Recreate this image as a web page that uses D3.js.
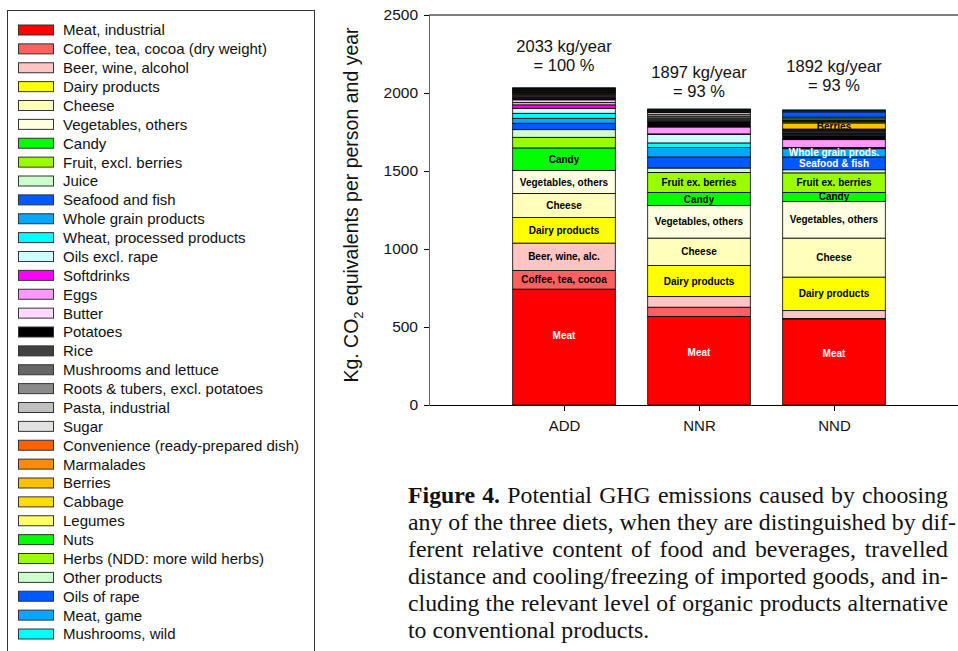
<!DOCTYPE html>
<html>
<head>
<meta charset="utf-8">
<script src="https://cdn.jsdelivr.net/npm/d3@7"></script>
<style>
  body { margin: 0; background: #fff; }
  svg text { font-family: "Liberation Sans", Arial, sans-serif; }
  .caption text { font-family: "Liberation Serif", "Times New Roman", serif; }
</style>
</head>
<body>
<svg id="chart" width="958" height="651"></svg>
<script>
const diets = ["ADD", "NNR", "NND"];

const categories = [
  "Meat, industrial", "Coffee, tea, cocoa (dry weight)", "Beer, wine, alcohol",
  "Dairy products", "Cheese", "Vegetables, others", "Candy", "Fruit, excl. berries",
  "Juice", "Seafood and fish", "Whole grain products", "Wheat, processed products",
  "Oils excl. rape", "Softdrinks", "Eggs", "Butter", "Potatoes", "Rice",
  "Mushrooms and lettuce", "Roots & tubers, excl. potatoes", "Pasta, industrial",
  "Sugar", "Convenience (ready-prepared dish)", "Marmalades", "Berries", "Cabbage",
  "Legumes", "Nuts", "Herbs (NDD: more wild herbs)", "Other products", "Oils of rape",
  "Meat, game", "Mushrooms, wild"
];

const colors = [
  "#ff0000", "#ff6060", "#ffc4c4", "#ffff00", "#ffffbb", "#ffffe2", "#00ff00", "#99ff00",
  "#ccffcc", "#0058ff", "#00a8ff", "#00ffff", "#ccffff", "#ff00ff", "#ff99ff", "#ffd8ff",
  "#000000", "#404040", "#666666", "#8a8a8a", "#c0c0c0", "#e2e2e2", "#ff6000", "#ff8c00",
  "#ffc000", "#ffde00", "#ffff66", "#00ff00", "#99ff00", "#ccffcc", "#0058ff", "#00a8ff",
  "#00ffff"
];

// kg CO2-eq per person and year, same order as categories
const addValues = [743, 119, 176, 164, 154, 148, 144, 68, 49, 41, 32, 32, 32, 22, 16, 16,
  10, 8, 8, 7, 6, 6, 4, 3, 3, 3, 3, 3, 3, 3, 3, 3, 1];
const nnrValues = [567, 60, 68, 199, 176, 209, 84, 128, 28, 71, 60, 30, 55, 3, 44, 4,
  30, 12, 12, 12, 12, 12, 2, 2, 2, 2, 2, 2, 2, 2, 2, 2, 1];
const nndValues = [552, 3, 50, 215, 250, 235, 58, 125, 20, 82, 53, 3, 3, 2, 50, 4,
  20, 8, 8, 8, 6, 6, 4, 4, 39, 7, 6, 6, 8, 10, 34, 7, 6];

const totals = ["2033 kg/year", "1897 kg/year", "1892 kg/year"];
const shares = ["= 100 %", "= 93 %", "= 93 %"];

// text drawn inside the bars: [category, label]
const addLabels = [["Meat, industrial", "Meat"], ["Coffee, tea, cocoa (dry weight)", "Coffee, tea, cocoa"],
  ["Beer, wine, alcohol", "Beer, wine, alc."], ["Dairy products", "Dairy products"],
  ["Cheese", "Cheese"], ["Vegetables, others", "Vegetables, others"], ["Candy", "Candy"]];
const nnrLabels = [["Meat, industrial", "Meat"], ["Dairy products", "Dairy products"],
  ["Cheese", "Cheese"], ["Vegetables, others", "Vegetables, others"], ["Candy", "Candy"],
  ["Fruit, excl. berries", "Fruit ex. berries"]];
const nndLabels = [["Meat, industrial", "Meat"], ["Dairy products", "Dairy products"],
  ["Cheese", "Cheese"], ["Vegetables, others", "Vegetables, others"], ["Candy", "Candy"],
  ["Fruit, excl. berries", "Fruit ex. berries"], ["Seafood and fish", "Seafood & fish"],
  ["Whole grain products", "Whole grain prods."], ["Berries", "Berries"]];
const whiteLabels = ["Meat", "Seafood & fish", "Whole grain prods."];

const yTicks = [0, 500, 1000, 1500, 2000, 2500];

const captionLines = [
  "Potential GHG emissions caused by choosing",
  "any of the three diets, when they are distinguished by dif-",
  "ferent relative content of food and beverages, travelled",
  "distance and cooling/freezing of imported goods, and in-",
  "cluding the relevant level of organic products alternative",
  "to conventional products."
];

const svg = d3.select("#chart");

const rows = diets.map((d, i) => {
  const vals = [addValues, nnrValues, nndValues][i];
  const r = { diet: d };
  categories.forEach((c, j) => (r[c] = vals[j]));
  return r;
});

const series = d3.stack().keys(categories)(rows);
const color = d3.scaleOrdinal().domain(categories).range(colors);

const x = d3.scaleLinear().domain([0, 4]).range([429, 969]);
const y = d3.scaleLinear().domain([0, 2500]).range([405, 15]);
const barW = x(0.76) - x(0);

// Bars
svg.append("g")
  .selectAll("g")
  .data(series)
  .join("g")
  .attr("fill", (s) => color(s.key))
  .selectAll("rect")
  .data((s) => s)
  .join("rect")
  .attr("x", (d, i) => x(i + 1) - barW / 2)
  .attr("y", (d) => y(d[1]))
  .attr("width", barW)
  .attr("height", (d) => y(d[0]) - y(d[1]))
  .attr("stroke", "#000")
  .attr("stroke-width", 0.8);

// Labels inside segments
[addLabels, nnrLabels, nndLabels].forEach((labels, i) => {
  labels.forEach(([cat, text]) => {
    const seg = series.find((s) => s.key === cat)[i];
    const frac = cat === "Meat, industrial" ? 0.6 : 0.5;
    svg.append("text")
      .attr("x", x(i + 1))
      .attr("y", y(seg[0] + (seg[1] - seg[0]) * frac))
      .attr("dy", "0.36em")
      .attr("text-anchor", "middle")
      .attr("font-size", "10px")
      .attr("font-weight", "700")
      .attr("fill", whiteLabels.includes(text) ? "#fff" : "#000")
      .text(text);
  });
});

// Totals above bars
const labelAt = [2262, 2095, 2133];
diets.forEach((d, i) => {
  const g = svg.append("text")
    .attr("text-anchor", "middle")
    .attr("font-size", "16.5px")
    .attr("fill", "#111");
  g.append("tspan").attr("x", x(i + 1)).attr("y", y(labelAt[i])).text(totals[i]);
  g.append("tspan").attr("x", x(i + 1)).attr("dy", 19).text(shares[i]);
});

// Y axis
svg.append("g")
  .attr("transform", `translate(${x(0)},0)`)
  .call(d3.axisLeft(y).tickValues(yTicks).tickFormat(d3.format("d"))
    .tickSize(5).tickSizeOuter(0).tickPadding(6))
  .call((g) => g.selectAll("text").attr("font-size", "15.5px").attr("fill", "#111"))
  .call((g) => g.select(".domain").attr("stroke", "#666"));

// X axis
svg.append("g")
  .attr("transform", `translate(0,${y(0)})`)
  .call(d3.axisBottom(x).tickValues([1, 2, 3]).tickFormat((i) => diets[i - 1])
    .tickSize(6).tickSizeOuter(0).tickPadding(9))
  .call((g) => g.selectAll("text").attr("font-size", "15px").attr("fill", "#111"));

// Top frame line
svg.append("line")
  .attr("x1", x(0)).attr("x2", x(4))
  .attr("y1", y(2500)).attr("y2", y(2500))
  .attr("stroke", "#000");

// Y axis title
const yt = svg.append("text")
  .attr("transform", `translate(358,${(y(0) + y(2500)) / 2 - 5}) rotate(-90)`)
  .attr("text-anchor", "middle")
  .attr("font-size", "19.5px")
  .attr("fill", "#111");
yt.append("tspan").text("Kg. CO");
yt.append("tspan").attr("font-size", "13px").attr("dy", 5).text("2");
yt.append("tspan").attr("dy", -5).text(" equivalents per person and year");

// Legend
const legend = svg.append("g");
legend.append("rect")
  .attr("x", 7.5).attr("y", 10.5)
  .attr("width", 307).attr("height", 700)
  .attr("fill", "none").attr("stroke", "#333");

const rowY = d3.scaleLinear().domain([0, categories.length - 1]).range([30, 634]);
const item = legend.selectAll("g.item")
  .data(categories)
  .join("g")
  .attr("class", "item")
  .attr("transform", (d, i) => `translate(0,${rowY(i)})`);
item.append("rect")
  .attr("x", 18.5).attr("y", -5)
  .attr("width", 35).attr("height", 10)
  .attr("fill", (d) => color(d))
  .attr("stroke", "#333");
item.append("text")
  .attr("x", 63)
  .attr("dy", "0.36em")
  .attr("font-size", "15px")
  .attr("fill", "#111")
  .text((d) => d);

// Caption
const cap = svg.append("g").attr("class", "caption");
const capLeft = 408, capRight = 948;
captionLines.forEach((line, i) => {
  const t = cap.append("text")
    .attr("x", capLeft)
    .attr("y", 503 + i * 27)
    .attr("font-size", "23.8px")
    .attr("fill", "#111");
  if (i === 0) t.append("tspan").attr("font-weight", "700").text("Figure 4.");
  t.append("tspan").text(i === 0 ? " " + line : line);
  if (i < captionLines.length - 1) {
    const w = t.node().getComputedTextLength();
    const spaces = line.split(" ").length - 1 + (i === 0 ? 2 : 0);
    const extra = (capRight - capLeft - w) / spaces;
    if (extra > 0) t.attr("word-spacing", extra);
  }
});
</script>
</body>
</html>
